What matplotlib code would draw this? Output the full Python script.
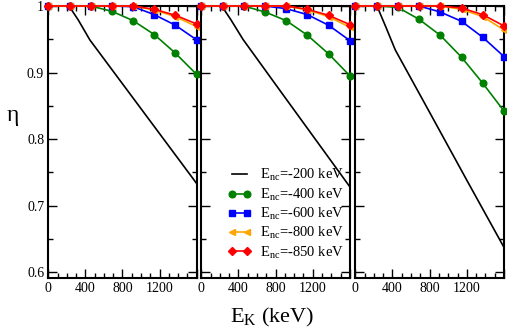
import matplotlib
matplotlib.use("Agg")
import matplotlib.pyplot as plt
from matplotlib.ticker import MultipleLocator, FixedLocator

plt.rcParams['font.family'] = ['Liberation Serif', 'DejaVu Serif']
plt.rcParams['mathtext.fontset'] = 'custom'
plt.rcParams['mathtext.rm'] = 'Liberation Serif'
plt.rcParams['mathtext.it'] = 'Liberation Serif:italic'

# E_K sample points (keV)
ek = [0, 229, 457, 686, 914, 1143, 1371, 1600]

# Panel 1
black1_x = [0, 223, 323, 448, 800, 1200, 1600]
black1_y = [1.0, 1.0, 0.979, 0.949, 0.883, 0.808, 0.733]
green1 = [1.0, 1.0, 1.0, 0.992, 0.978, 0.957, 0.929, 0.897]
blue1 = [1.0, 1.0, 1.0, 1.0, 0.999, 0.987, 0.971, 0.949]
orange1 = [1.0, 1.0, 1.0, 1.0, 1.0, 0.994, 0.984, 0.969]
red1 = [1.0, 1.0, 1.0, 1.0, 1.0, 0.995, 0.986, 0.973]

# Panel 2
black2_x = [0, 220, 320, 448, 800, 1200, 1600]
black2_y = [1.0, 1.0, 0.979, 0.950, 0.882, 0.805, 0.728]
green2 = [1.0, 1.0, 1.0, 0.991, 0.978, 0.956, 0.928, 0.895]
blue2 = [1.0, 1.0, 1.0, 1.0, 0.996, 0.987, 0.971, 0.948]
orange2 = [1.0, 1.0, 1.0, 1.0, 1.0, 0.994, 0.984, 0.968]
red2 = [1.0, 1.0, 1.0, 1.0, 1.0, 0.995, 0.986, 0.972]

# Panel 3
black3_x = [0, 233, 330, 430, 800, 1200, 1600]
black3_y = [1.0, 1.0, 0.968, 0.934, 0.840, 0.738, 0.637]
green3 = [1.0, 1.0, 0.998, 0.980, 0.956, 0.923, 0.884, 0.842]
blue3 = [1.0, 1.0, 1.0, 1.0, 0.991, 0.977, 0.953, 0.924]
orange3 = [1.0, 1.0, 1.0, 1.0, 1.0, 0.995, 0.984, 0.964]
red3 = [1.0, 1.0, 1.0, 1.0, 1.0, 0.997, 0.987, 0.970]

labels = [r'E$_{\rm nc}$=-200 keV', r'E$_{\rm nc}$=-400 keV', r'E$_{\rm nc}$=-600 keV',
          r'E$_{\rm nc}$=-800 keV', r'E$_{\rm nc}$=-850 keV']
xtick_vals = [0, 400, 800, 1200]
xtick_labels = ['0', '400', '800', '1200']
ytick_vals = [0.6, 0.7, 0.8, 0.9, 1.0]
ytick_labels = ['0.6', '0.7', '0.8', '0.9', '1']

panels = [
    (black1_x, black1_y, green1, blue1, orange1, red1),
    (black2_x, black2_y, green2, blue2, orange2, red2),
    (black3_x, black3_y, green3, blue3, orange3, red3),
]

fig = plt.figure(figsize=(5.07, 3.31), dpi=100)
W, H = 507.0, 331.0
lefts = [48.3, 201.3, 355.3]
widths = [148.4, 148.6, 148.7]
top_px, bot_px = 6.0, 278.0

axes = []
for i, (bx, by, g, b, o, r) in enumerate(panels):
    ax = fig.add_axes([lefts[i] / W, (H - bot_px) / H, widths[i] / W, (bot_px - top_px) / H])
    axes.append(ax)
    ax.plot(bx, by, color='black', lw=1.2, label=labels[0])
    ax.plot(ek, g, color='green', lw=1.2, marker='o', ms=4.8, label=labels[1], clip_on=False, zorder=3)
    ax.plot(ek, b, color='blue', lw=1.2, marker='s', ms=4.4, label=labels[2], clip_on=False, zorder=4)
    ax.plot(ek, o, color='orange', lw=1.2, marker='<', ms=4.8, label=labels[3], clip_on=False, zorder=5)
    ax.plot(ek, r, color='red', lw=1.2, marker='D', ms=3.6, label=labels[4], clip_on=False, zorder=6)
    ax.set_xlim(0, 1600)
    ax.set_ylim(0.591, 1.0)
    ax.xaxis.set_minor_locator(MultipleLocator(100))
    ax.set_xticks(xtick_vals + [1600])
    ax.set_xticklabels(xtick_labels + [''])
    ax.yaxis.set_minor_locator(MultipleLocator(0.05))
    ax.set_yticks(ytick_vals)
    if i == 0:
        ax.set_yticklabels(ytick_labels)
    else:
        ax.set_yticklabels([])
    ax.tick_params(which='both', direction='in', top=True, right=True, labelsize=10, width=1.0, pad=3)
    ax.tick_params(which='major', length=6.5)
    ax.tick_params(which='minor', length=3.5)
    for s in ax.spines.values():
        s.set_linewidth(1.5)

leg = axes[1].legend(loc='upper left', bbox_to_anchor=(0.18, 0.407), frameon=False, fontsize=10.5,
                     handlelength=1.6, handletextpad=0.6, labelspacing=0.22, numpoints=2,
                     borderaxespad=0, borderpad=0)

fig.text(7 / W, 1 - 115 / H, 'η', fontsize=17, ha='left', va='center')
fig.text(272 / W, 1 - 317 / H, r'E$_{\rm K}$ (keV)', fontsize=16, ha='center', va='center')

fig.savefig('out.png', dpi=100)
